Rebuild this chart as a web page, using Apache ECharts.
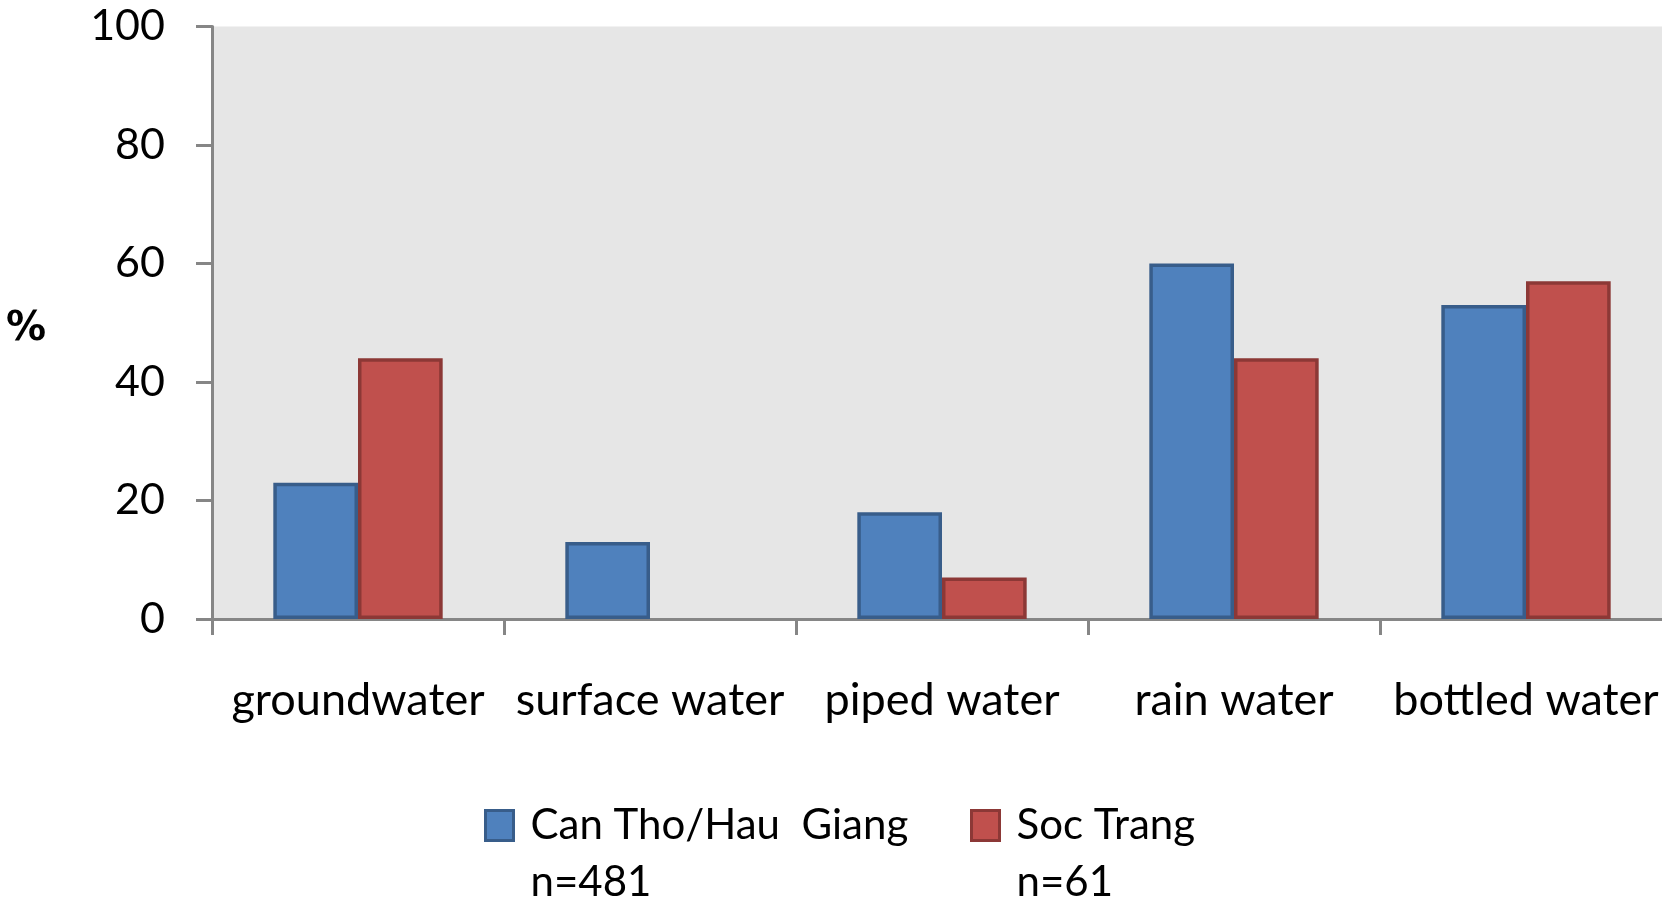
<!DOCTYPE html>
<html>
<head>
<meta charset="utf-8">
<title>Drinking water sources</title>
<script src="https://cdn.jsdelivr.net/npm/echarts@6/dist/echarts.min.js"></script>
<style>
  html, body { margin: 0; padding: 0; background: #ffffff; }
  #chart { width: 1662px; height: 901px; }
</style>
</head>
<body>
<div id="chart"></div>
<script>
// Water sources used by households, share in percent per province group
const categories = ['groundwater', 'surface water', 'piped water', 'rain water', 'bottled water'];
const canThoValues = [23, 13, 18, 60, 53];
const socTrangValues = [44, 0, 7, 44, 57];
const seriesNames = ['Can Tho/Hau  Giang', 'Soc Trang'];
const sampleSizes = ['n=481', 'n=61'];
const yMin = 0;
const yMax = 100;
const yStep = 20;

const blue = '#4F81BD', blueEdge = '#385D8A';
const red = '#C0504D', redEdge = '#8C3836';
const axisGrey = '#868686';
const textFont = 'Lato';

// a zero value has no visible bar, so it gets no outline either
function toBarData(values) {
  return values.map(v => v === 0 ? { value: v, itemStyle: { borderWidth: 0 } } : v);
}

const legendText = {
  fontFamily: textFont,
  fontSize: 42,
  color: '#000',
  lineHeight: 57,
  padding: [0, 0, 0, 12]
};

// the blank first line keeps the swatch level with the series name
function legendFor(index, left) {
  return {
    data: [seriesNames[index]],
    left: left,
    top: 740,
    padding: 0,
    icon: 'rect',
    itemWidth: 28,
    itemHeight: 30,
    itemStyle: { borderWidth: 3 },
    selectedMode: false,
    formatter: name => '\n' + name + '\n' + sampleSizes[index],
    textStyle: legendText
  };
}

const chart = echarts.init(document.getElementById('chart'), null, { renderer: 'canvas' });
chart.setOption({
  animation: false,
  backgroundColor: '#ffffff',
  grid: {
    left: 212,
    top: 26.5,
    bottom: 282,
    right: -10,
    outerBoundsMode: 'none',
    containLabel: false,
    show: true,
    backgroundColor: '#E6E6E6',
    borderWidth: 0
  },
  legend: [legendFor(0, 484), legendFor(1, 970)],
  xAxis: {
    type: 'category',
    data: categories,
    boundaryGap: true,
    axisLine: { lineStyle: { color: axisGrey, width: 3 } },
    axisTick: { show: true, length: 16, lineStyle: { color: axisGrey, width: 3 } },
    axisLabel: {
      interval: 0,
      margin: 59,
      fontFamily: textFont,
      fontSize: 45,
      color: '#000'
    },
    splitLine: { show: false }
  },
  yAxis: {
    type: 'value',
    min: yMin,
    max: yMax,
    interval: yStep,
    name: '{p|%}',
    nameLocation: 'middle',
    nameRotate: 0,
    nameGap: 166,
    nameTextStyle: {
      rich: {
        p: {
          fontFamily: 'DejaVu Sans',
          fontSize: 40,
          fontWeight: 'bold',
          color: '#000',
          padding: [14, 0, 0, 0]
        }
      }
    },
    axisLine: { show: true, lineStyle: { color: axisGrey, width: 3 } },
    axisTick: { show: true, length: 16, lineStyle: { color: axisGrey, width: 3 } },
    axisLabel: {
      margin: 47,
      fontFamily: textFont,
      fontSize: 43,
      color: '#000'
    },
    splitLine: { show: false }
  },
  series: [
    {
      name: seriesNames[0],
      type: 'bar',
      data: toBarData(canThoValues),
      barGap: '0%',
      barCategoryGap: '42%',
      itemStyle: { color: blue, borderColor: blueEdge, borderWidth: 3.5 }
    },
    {
      name: seriesNames[1],
      type: 'bar',
      data: toBarData(socTrangValues),
      barGap: '0%',
      barCategoryGap: '42%',
      itemStyle: { color: red, borderColor: redEdge, borderWidth: 3.5 }
    }
  ]
});
</script>
</body>
</html>
